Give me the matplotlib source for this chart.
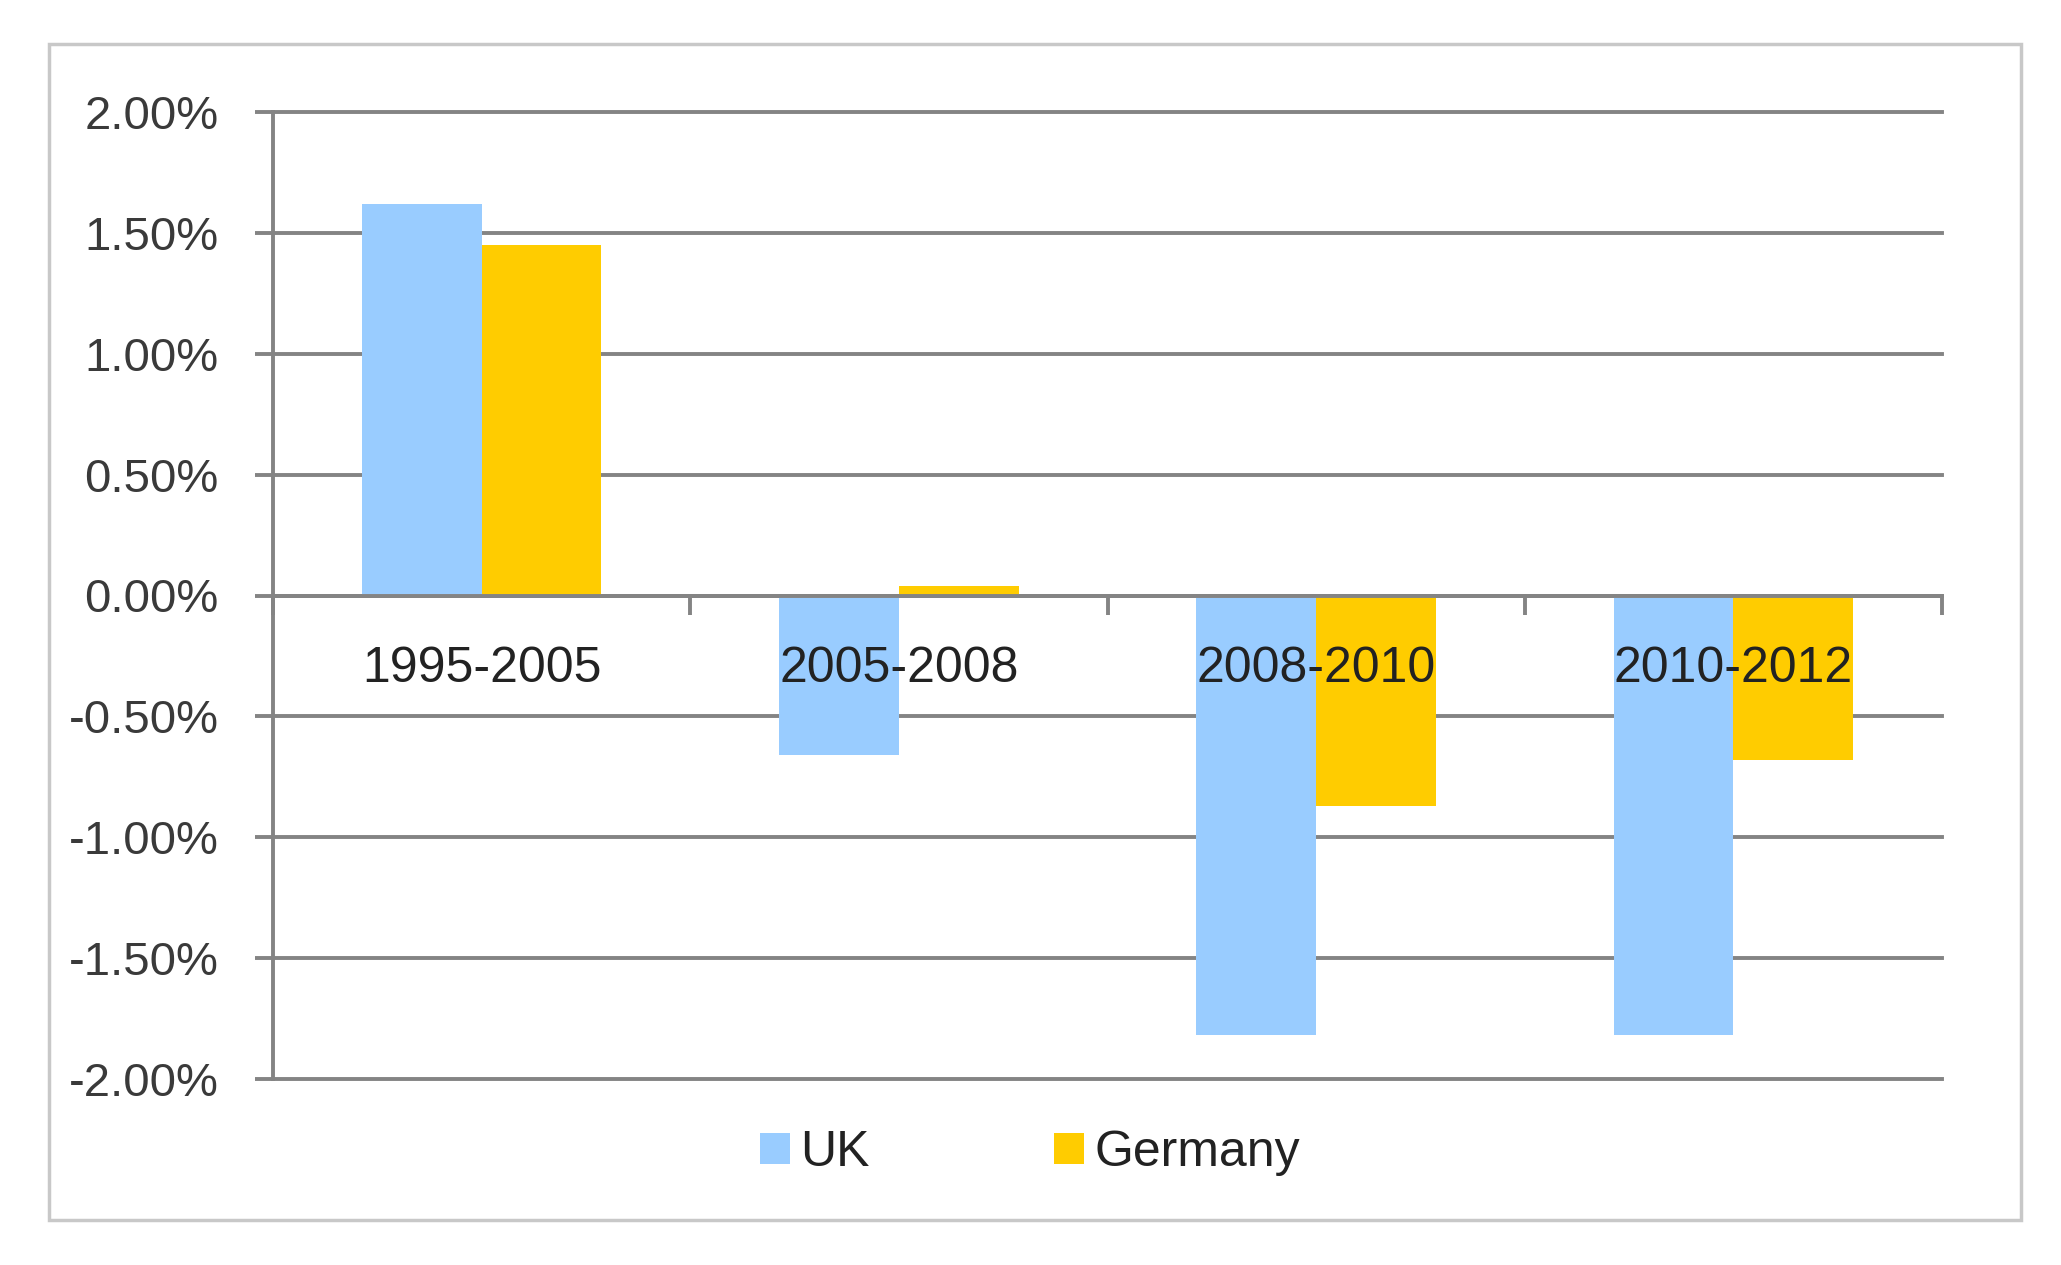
import matplotlib.pyplot as plt
from matplotlib.patches import Rectangle
from matplotlib.ticker import FuncFormatter, FixedLocator
import numpy as np

periods = ['1995-2005', '2005-2008', '2008-2010', '2010-2012']
uk = [1.62, -0.66, -1.82, -1.82]
germany = [1.45, 0.04, -0.87, -0.68]
y_ticks = [2.0, 1.5, 1.0, 0.5, 0.0, -0.5, -1.0, -1.5, -2.0]

plt.rcParams['font.family'] = ['Liberation Sans', 'DejaVu Sans']

fig = plt.figure(figsize=(20.61, 12.65), dpi=100)
ax = fig.add_axes([273 / 2061, 1 - 1079 / 1265, (1942 - 273) / 2061, (1079 - 112) / 1265])

# light grey frame round the whole chart
fig.patches.append(Rectangle((49 / 2061, 1 - 1220 / 1265), (2021 - 49) / 2061, (1220 - 44) / 1265,
                             transform=fig.transFigure, fill=False, edgecolor='#c8c8c8', linewidth=2.5))

x = np.arange(len(periods))
w = 0.287
ax.bar(x - w / 2, uk, w, color='#99ccff', label='UK', zorder=2)
ax.bar(x + w / 2, germany, w, color='#ffcc00', label='Germany', zorder=2)

grid_c = '#848484'
ax.set_xlim(-0.5, len(periods) - 0.5)
ax.set_ylim(-2.0, 2.0)
ax.set_axisbelow(True)
ax.yaxis.set_major_locator(FixedLocator(y_ticks))
ax.yaxis.set_major_formatter(FuncFormatter(lambda v, p: '%.2f%%' % v))
ax.grid(axis='y', color=grid_c, linewidth=2.8)
for gl in ax.get_ygridlines():
    gl.set_clip_on(False)
ax.tick_params(axis='y', length=13, width=2.8, color=grid_c, pad=26, labelsize=34, labelcolor='#3a3a3a')

# category boundaries as small ticks under the zero line
ax.spines['bottom'].set_position(('data', 0))
ax.xaxis.set_major_locator(FixedLocator(x))
ax.xaxis.set_minor_locator(FixedLocator(np.arange(-0.5, len(periods), 1.0)))
ax.tick_params(axis='x', which='major', length=0, labelbottom=False)
ax.tick_params(axis='x', which='minor', length=14, width=2.8, color=grid_c)
for s in ['top', 'right']:
    ax.spines[s].set_visible(False)
for s in ['left', 'bottom']:
    ax.spines[s].set_color(grid_c)
    ax.spines[s].set_linewidth(2.8)

for i, p in enumerate(periods):
    ax.annotate(p, xy=(i, 0), xytext=(0, -36), textcoords='offset points',
                ha='center', va='top', fontsize=36, color='#222222', zorder=5)

fig.legend(loc='center', bbox_to_anchor=(1030 / 2061, 1 - 1153 / 1265), ncol=2, frameon=False,
           fontsize=36, handlelength=0.6, handleheight=0.6, handletextpad=0.2, columnspacing=3.7,
           labelcolor='#222222')

fig.savefig('out.png', dpi=100, facecolor='white')
